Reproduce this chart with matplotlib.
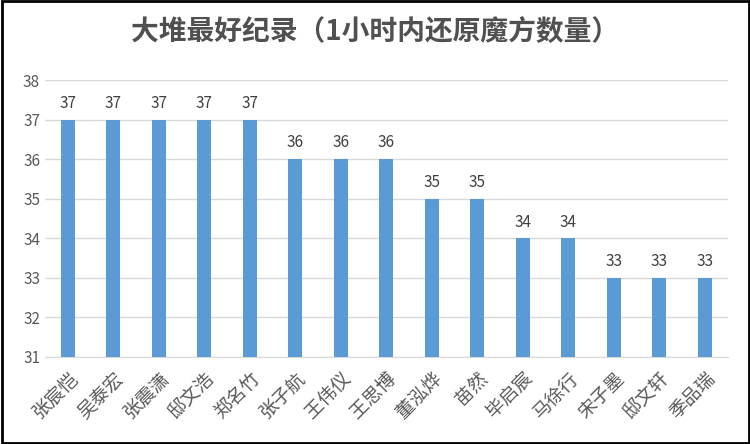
import matplotlib
matplotlib.use("Agg")
import matplotlib.pyplot as plt

names = ["张宸恺","吴泰宏","张震潇","邸文浩","郑名竹","张子航","王伟仪","王思博","董泓烨","苗然","毕启宸","马徐行","宋子墨","邸文轩","季品瑞"]
values = [37,37,37,37,37,36,36,36,35,35,34,34,33,33,33]
yticks = [31,32,33,34,35,36,37,38]

plt.rcParams["font.family"] = "Noto Sans CJK SC"
fig = plt.figure(figsize=(7.5,4.44), dpi=100)
ax = fig.add_axes([0.06, 0.196, 0.91, 0.623])
x = range(len(names))
ax.bar(x, [v-31 for v in values], bottom=31, width=0.3, color="#5B9BD5", zorder=3)
for i, v in zip(x, values):
    ax.text(i, v+0.2, str(v), ha="center", va="bottom", fontsize=11, color="#404040")
ax.set_ylim(31, 38)
ax.set_xlim(-0.5, len(names)-0.5)
ax.set_yticks(yticks)
ax.set_yticklabels([str(t) for t in yticks], fontsize=11, color="#595959")
ax.yaxis.grid(True, color="#D9D9D9", lw=1, zorder=0)
ax.set_xticks(list(x))
ax.set_xticklabels(names, rotation=45, ha="right", rotation_mode="anchor", fontsize=13.5, color="#595959")
ax.tick_params(length=0, axis="x", pad=8)
ax.tick_params(length=0, axis="y")
for s in ["top","right","left"]:
    ax.spines[s].set_visible(False)
ax.spines["bottom"].set_color("#D9D9D9")
fig.text(0.5, 0.925, "大堆最好纪录（1小时内还原魔方数量）", ha="center", va="center", fontsize=20, fontweight="bold", color="#505050")
fig.patches.append(plt.Rectangle((0.002,0.003),0.996,0.994, transform=fig.transFigure, fill=False, ec="black", lw=2))
fig.savefig("out.png")
